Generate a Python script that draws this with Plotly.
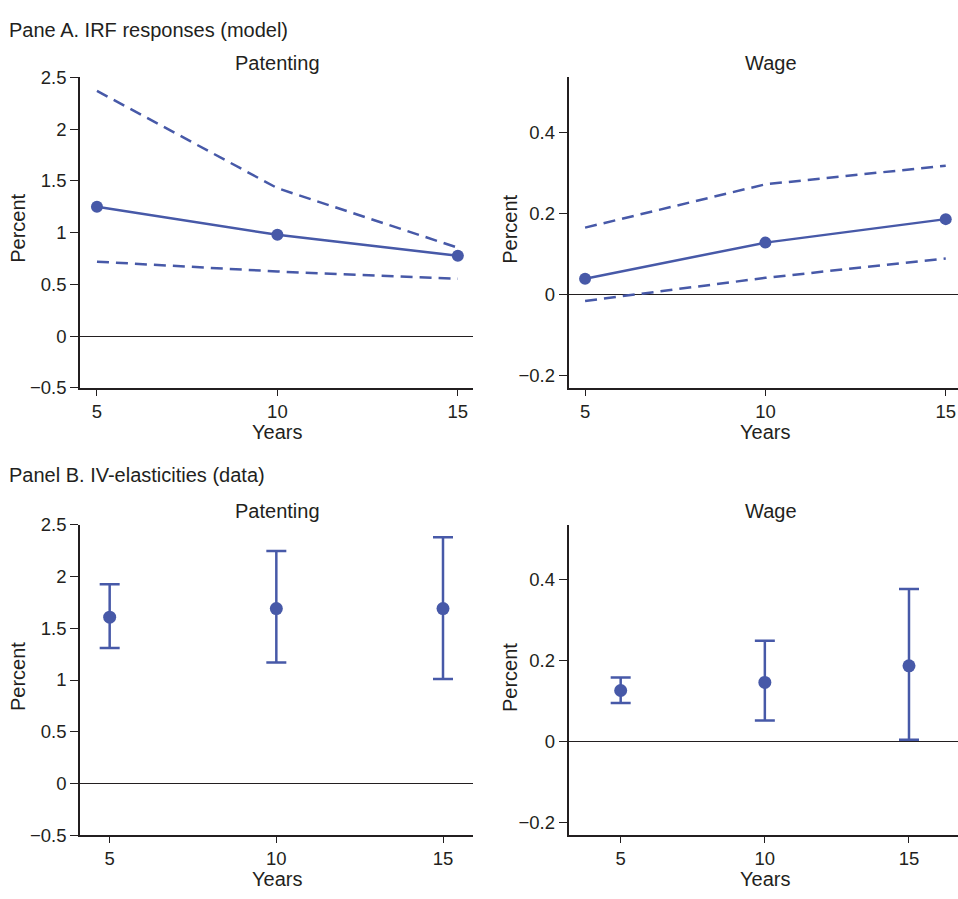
import plotly.graph_objects as go

# ---------------- data ----------------
years = [5, 10, 15]

# Panel A (model IRFs)
pat_irf = [1.25, 0.98, 0.777]
pat_irf_hi = [2.37, 1.43, 0.855]
pat_irf_lo = [0.72, 0.625, 0.554]

wage_irf = [0.038, 0.127, 0.185]
wage_irf_hi = [0.164, 0.271, 0.317]
wage_irf_lo = [-0.017, 0.040, 0.088]

# Panel B (IV elasticities)
pat_iv = [1.607, 1.69, 1.69]
pat_iv_hi = [1.925, 2.245, 2.38]
pat_iv_lo = [1.31, 1.17, 1.01]

wage_iv = [0.126, 0.146, 0.187]
wage_iv_hi = [0.158, 0.249, 0.377]
wage_iv_lo = [0.095, 0.052, 0.004]

pat_ticks = [-0.5, 0, 0.5, 1, 1.5, 2, 2.5]
pat_ticktext = ["\u22120.5", "0", "0.5", "1", "1.5", "2", "2.5"]
wage_ticks = [-0.2, 0, 0.2, 0.4]
wage_ticktext = ["\u22120.2", "0", "0.2", "0.4"]
x_ticks = [5, 10, 15]
x_ticktext = ["5", "10", "15"]

panel_titles = ["Pane A. IRF responses (model)", "Panel B. IV-elasticities (data)"]
sub_titles = ["Patenting", "Wage", "Patenting", "Wage"]
x_title = "Years"
y_title = "Percent"

# ---------------- style ----------------
W, H = 958, 899
BLUE = "#4759A8"
FONT = "Liberation Sans, Arial, sans-serif"
TXT = "#231F20"
TICK_SIZE = 18.5
LABEL_SIZE = 20

def px_x(p):
    return p / W

def px_y(p):
    return 1 - p / H

fig = go.Figure()

def line_trace(y, xa, ya, dash=None, markers=False):
    return go.Scatter(
        x=years, y=y, xaxis=xa, yaxis=ya,
        mode="lines+markers" if markers else "lines",
        line=dict(color=BLUE, width=2.5, dash=dash if dash else "solid"),
        marker=dict(color=BLUE, size=12),
        showlegend=False, hoverinfo="x+y",
    )

# Panel A
fig.add_trace(line_trace(pat_irf_hi, "x", "y", dash="12px,7px"))
fig.add_trace(line_trace(pat_irf_lo, "x", "y", dash="12px,7px"))
fig.add_trace(line_trace(pat_irf, "x", "y", markers=True))

fig.add_trace(line_trace(wage_irf_hi, "x2", "y2", dash="12px,7px"))
fig.add_trace(line_trace(wage_irf_lo, "x2", "y2", dash="12px,7px"))
fig.add_trace(line_trace(wage_irf, "x2", "y2", markers=True))

# Panel B
def err_trace(y, hi, lo, xa, ya):
    return go.Scatter(
        x=years, y=y, xaxis=xa, yaxis=ya, mode="markers",
        marker=dict(color=BLUE, size=13),
        error_y=dict(
            type="data", symmetric=False,
            array=[h - v for h, v in zip(hi, y)],
            arrayminus=[v - l for v, l in zip(y, lo)],
            color=BLUE, thickness=2.5, width=10,
        ),
        showlegend=False,
    )

fig.add_trace(err_trace(pat_iv, pat_iv_hi, pat_iv_lo, "x3", "y3"))
fig.add_trace(err_trace(wage_iv, wage_iv_hi, wage_iv_lo, "x4", "y4"))

# ---------------- axes ----------------
def xaxis(domain, rng, anchor):
    return dict(
        domain=domain, range=rng, anchor=anchor,
        tickvals=x_ticks, ticktext=x_ticktext,
        showline=True, linecolor="#231F20", linewidth=1.5,
        ticks="outside", ticklen=6, tickwidth=1.2, tickcolor="#231F20",
        showgrid=False, zeroline=False,
        tickfont=dict(family=FONT, size=TICK_SIZE, color=TXT),
        fixedrange=True,
    )

def yaxis(domain, rng, anchor, tv, tt):
    return dict(
        domain=domain, range=rng, anchor=anchor,
        tickvals=tv, ticktext=tt,
        showline=True, linecolor="#231F20", linewidth=1.5,
        ticks="outside", ticklen=8, tickwidth=1.2, tickcolor="#231F20",
        showgrid=False, zeroline=True, zerolinecolor="#231F20", zerolinewidth=1.2,
        tickfont=dict(family=FONT, size=TICK_SIZE, color=TXT),
        fixedrange=True,
    )

xl = [px_x(80), px_x(473)]
xr = [px_x(568.5), 1.0]
yt = [px_y(386), px_y(68)]
yb = [px_y(844), px_y(526)]

layout_axes = dict(
    xaxis=xaxis(xl, [4.53, 15.42], "y"),
    yaxis=yaxis(yt, [-0.5, 2.5], "x", pat_ticks, pat_ticktext),
    xaxis2=xaxis(xr, [4.54, 15.34], "y2"),
    yaxis2=yaxis(yt, [-0.232, 0.535], "x2", wage_ticks, wage_ticktext),
    xaxis3=xaxis(xl, [4.11, 15.9], "y3"),
    yaxis3=yaxis(yb, [-0.5, 2.5], "x3", pat_ticks, pat_ticktext),
    xaxis4=xaxis(xr, [3.19, 16.7], "y4"),
    yaxis4=yaxis(yb, [-0.232, 0.536], "x4", wage_ticks, wage_ticktext),
)

# ---------------- annotations ----------------
ann = []

def add_text(text, x, y, size, xanchor="center", angle=0):
    ann.append(dict(
        text=text, x=px_x(x), y=px_y(y), xref="paper", yref="paper",
        xanchor=xanchor, yanchor="middle", showarrow=False, textangle=angle,
        font=dict(family=FONT, size=size, color=TXT),
    ))

add_text(panel_titles[0], 7, 19, LABEL_SIZE, xanchor="left")
add_text(panel_titles[1], 7, 475, LABEL_SIZE, xanchor="left")

add_text(sub_titles[0], 277, 53, LABEL_SIZE)
add_text(sub_titles[1], 771, 53, LABEL_SIZE)
add_text(sub_titles[2], 277, 512, LABEL_SIZE)
add_text(sub_titles[3], 771, 512, LABEL_SIZE)

add_text(x_title, 277, 431, LABEL_SIZE)
add_text(x_title, 765, 431, LABEL_SIZE)
add_text(x_title, 277, 889, LABEL_SIZE)
add_text(x_title, 765, 889, LABEL_SIZE)

add_text(y_title, 18, 223, LABEL_SIZE, angle=-90)
add_text(y_title, 510, 223, LABEL_SIZE, angle=-90)
add_text(y_title, 18, 682, LABEL_SIZE, angle=-90)
add_text(y_title, 510, 682, LABEL_SIZE, angle=-90)

fig.update_layout(
    width=W, height=H,
    margin=dict(l=0, r=0, t=0, b=0),
    paper_bgcolor="white", plot_bgcolor="white",
    showlegend=False,
    annotations=ann,
    **layout_axes,
)

fig.write_html("out.html", config=dict(displayModeBar=False))
